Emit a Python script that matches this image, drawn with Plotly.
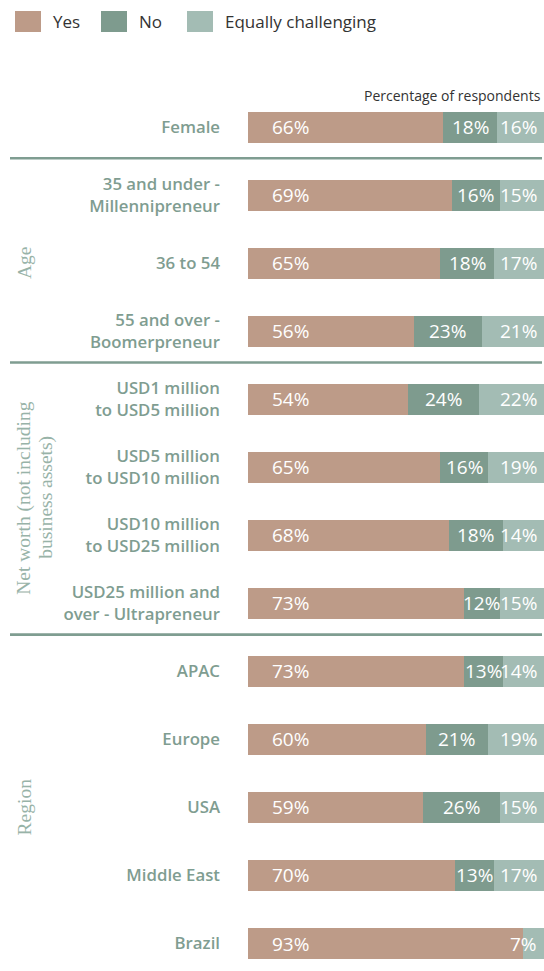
import plotly.graph_objects as go

categories = [
    "Female",
    "35 and under -<br>Millennipreneur",
    "36 to 54",
    "55 and over -<br>Boomerpreneur",
    "USD1 million<br>to USD5 million",
    "USD5 million<br>to USD10 million",
    "USD10 million<br>to USD25 million",
    "USD25 million and<br>over - Ultrapreneur",
    "APAC",
    "Europe",
    "USA",
    "Middle East",
    "Brazil",
]
yes_vals = [66, 69, 65, 56, 54, 65, 68, 73, 73, 60, 59, 70, 93]
no_vals = [18, 16, 18, 23, 24, 16, 18, 12, 13, 21, 26, 13, 0]
equal_vals = [16, 15, 17, 21, 22, 19, 14, 15, 14, 19, 15, 17, 7]

series_names = ["Yes", "No", "Equally challenging"]
series_colors = ["#bd9b88", "#7e9b8e", "#a3bcb4"]

# (label lines, first row index, last row index)
groups = [
    (["Age"], 1, 3),
    (["Net worth (not including", "business assets)"], 4, 7),
    (["Region"], 8, 12),
]
separators_after = [0, 3, 7]

W, H = 544, 971
ML, MR, MT, MB = 248, 0, 93, 0
PW, PH = W - ML - MR, H - MT - MB


def px_x(px):
    return (px - ML) / PW


def px_y(py):
    return (H - MB - py) / PH


label_color = "#7f9d91"
group_color = "#98b3a8"
sans = "Open Sans"

fig = go.Figure()
for name, vals, col in zip(series_names, [yes_vals, no_vals, equal_vals], series_colors):
    fig.add_trace(go.Bar(
        y=categories, x=vals, name=name, orientation="h",
        marker=dict(color=col, line=dict(width=0)),
        textposition="none", hoverinfo="x+name", showlegend=False,
    ))

annotations = []
shapes = []
val_font = dict(family=sans, size=19, color="white")
for i, (y, n, e) in enumerate(zip(yes_vals, no_vals, equal_vals)):
    annotations.append(dict(x=0, y=i, xref="x", yref="y", text=f"{y}%", showarrow=False,
                            xanchor="left", xshift=22, font=val_font))
    if n > 0:
        annotations.append(dict(x=y + n / 2, y=i, xref="x", yref="y", text=f"{n}%", showarrow=False,
                                xanchor="center", font=val_font))
    if e > 0:
        annotations.append(dict(x=100, y=i, xref="x", yref="y", text=f"{e}%", showarrow=False,
                                xanchor="right", xshift=-5, font=val_font))

for s in separators_after:
    shapes.append(dict(type="line", xref="paper", yref="y", x0=px_x(10), x1=px_x(542),
                       y0=s + 0.46, y1=s + 0.46, line=dict(color=label_color, width=2.6)))

for lines, a, b in groups:
    ymid = (a + b) / 2 - (0.05 if len(lines) > 1 else 0)
    for k, line in enumerate(lines):
        annotations.append(dict(x=px_x(24 + 22 * k), y=ymid, xref="paper", yref="y", text=line,
                                showarrow=False, textangle=-90, xanchor="center", yanchor="middle",
                                font=dict(family="Liberation Serif", size=19.5, color=group_color)))

# legend
leg_x = [15, 101, 187]
for name, col, lx in zip(series_names, series_colors, leg_x):
    shapes.append(dict(type="rect", xref="paper", yref="paper", x0=px_x(lx), x1=px_x(lx + 26),
                       y0=px_y(32), y1=px_y(11), fillcolor=col, line=dict(width=0)))
    annotations.append(dict(x=px_x(lx + 36), y=px_y(21.5), xref="paper", yref="paper", text=name,
                            showarrow=False, xanchor="left", yanchor="middle",
                            font=dict(family=sans, size=17, color="#333333")))

annotations.append(dict(x=px_x(543), y=px_y(95), xref="paper", yref="paper",
                        text="Percentage of respondents", showarrow=False,
                        xanchor="right", yanchor="middle",
                        font=dict(family=sans, size=14, color="#333333")))

fig.update_layout(
    width=W, height=H,
    margin=dict(l=ML, r=MR, t=MT, b=MB, pad=0),
    barmode="stack", bargap=0.545,
    plot_bgcolor="white", paper_bgcolor="white",
    showlegend=False,
    xaxis=dict(range=[0, 100], showgrid=False, zeroline=False, showticklabels=False,
               showline=False, fixedrange=True),
    yaxis=dict(type="category", categoryorder="array", categoryarray=categories,
               range=[12.404, -0.5], showgrid=False, zeroline=False, showline=False,
               ticks="", ticklabelstandoff=27, fixedrange=True,
               tickfont=dict(family=sans, size=16.8, color=label_color, weight=600)),
    shapes=shapes, annotations=annotations,
)

fig.write_html(
    "out.html",
    config={"displayModeBar": False},
    post_script="document.body.style.margin='0';document.body.style.overflow='hidden';",
)
